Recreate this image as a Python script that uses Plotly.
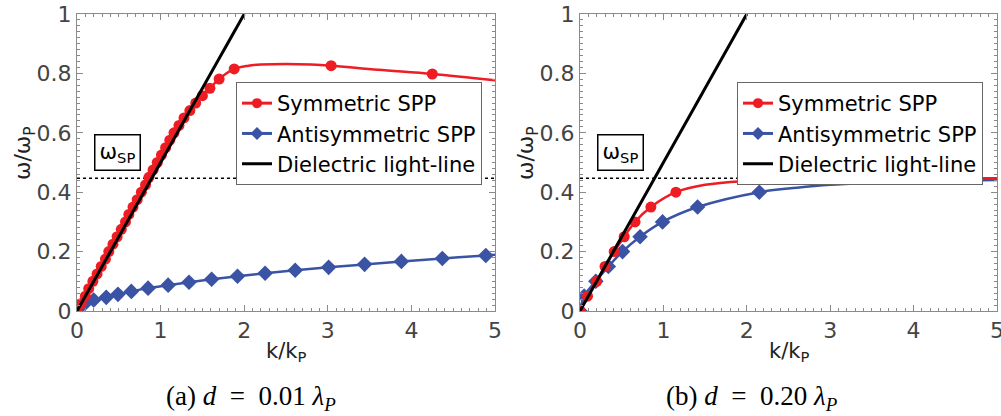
import plotly.graph_objects as go

# ---------------- data ----------------
# (a) d = 0.01 lambda_P
a_sym_k = [0, 0.05, 0.10, 0.14, 0.19, 0.24, 0.29, 0.34, 0.38, 0.43, 0.48, 0.53, 0.58, 0.62,
           0.67, 0.72, 0.77, 0.82, 0.86, 0.91, 0.96, 1.01, 1.06, 1.11, 1.16, 1.22, 1.28, 1.35,
           1.42, 1.50, 1.59, 1.70, 1.88, 3.04, 4.25]
a_sym_w = [0, 0.025, 0.05, 0.075, 0.10, 0.125, 0.15, 0.175, 0.20, 0.225, 0.25, 0.275, 0.30,
           0.325, 0.35, 0.375, 0.40, 0.425, 0.45, 0.475, 0.50, 0.525, 0.55, 0.575, 0.60, 0.625,
           0.65, 0.675, 0.70, 0.725, 0.75, 0.781, 0.815, 0.826, 0.798]
a_sym_curve_k = [0, 0.48, 0.96, 1.42, 1.59, 1.70, 1.88, 2.05, 2.2, 2.5, 2.8, 3.04, 3.6, 4.25, 5.0]
a_sym_curve_w = [0, 0.25, 0.50, 0.70, 0.75, 0.781, 0.815, 0.826, 0.830, 0.832, 0.830, 0.826,
                 0.812, 0.798, 0.777]
a_anti_k = [0, 0.05, 0.10, 0.20, 0.35, 0.49, 0.65, 0.85, 1.09, 1.34, 1.61, 1.92, 2.25, 2.61,
            3.01, 3.44, 3.88, 4.37, 4.89]
a_anti_w = [0, 0.018, 0.027, 0.037, 0.046, 0.056, 0.066, 0.077, 0.087, 0.097, 0.107, 0.117,
            0.127, 0.137, 0.147, 0.157, 0.167, 0.177, 0.187]
a_anti_curve_k = a_anti_k + [5.0]
a_anti_curve_w = a_anti_w + [0.189]

# (b) d = 0.20 lambda_P
b_sym_k = [0, 0.09, 0.20, 0.30, 0.41, 0.53, 0.66, 0.85, 1.15]
b_sym_w = [0, 0.05, 0.10, 0.15, 0.20, 0.25, 0.30, 0.35, 0.40]
b_sym_curve_k = b_sym_k + [1.5, 2.0, 2.5, 3.0, 4.0, 5.0]
b_sym_curve_w = b_sym_w + [0.425, 0.438, 0.443, 0.445, 0.446, 0.447]
b_anti_k = [0, 0.05, 0.19, 0.34, 0.51, 0.72, 0.99, 1.41, 2.15]
b_anti_w = [0, 0.05, 0.10, 0.15, 0.20, 0.25, 0.30, 0.35, 0.40]
b_anti_curve_k = b_anti_k + [2.6, 3.0, 3.5, 4.0, 5.0]
b_anti_curve_w = b_anti_w + [0.415, 0.425, 0.432, 0.437, 0.441]

light_k = [0, 2.0]
light_w = [0, 1.0]
w_sp = 0.447

x_ticks = [0, 1, 2, 3, 4, 5]
y_ticks = [0, 0.2, 0.4, 0.6, 0.8, 1]
x_ticklabels = ["0", "1", "2", "3", "4", "5"]
y_ticklabels = ["0", "0.2", "0.4", "0.6", "0.8", "1"]

captions = ["(a) <i>d</i>\u00a0\u00a0=\u00a0\u00a00.01 <i>λ<sub>P</sub></i>",
            "(b) <i>d</i>\u00a0\u00a0=\u00a0\u00a00.20 <i>λ<sub>P</sub></i>"]
legend_names = ["Symmetric SPP", "Antisymmetric SPP", "Dielectric light-line"]

# ---------------- styles ----------------
RED = "#ee1d23"
BLUE = "#3a53a4"
FONT = "DejaVu Sans"
W, H = 1001, 416

fig = go.Figure()

panels = [
    dict(xa="x", ya="y", leg="legend",
         sym=(a_sym_k, a_sym_w, a_sym_curve_k, a_sym_curve_w, 11),
         anti=(a_anti_k, a_anti_w, a_anti_curve_k, a_anti_curve_w)),
    dict(xa="x2", ya="y2", leg="legend2",
         sym=(b_sym_k, b_sym_w, b_sym_curve_k, b_sym_curve_w, 11),
         anti=(b_anti_k, b_anti_w, b_anti_curve_k, b_anti_curve_w)),
]

for p in panels:
    xa, ya, leg = p["xa"], p["ya"], p["leg"]
    sk, sw, sck, scw, ssize = p["sym"]
    ak, aw, ack, acw = p["anti"]
    fig.add_trace(go.Scatter(x=[0, 5], y=[w_sp, w_sp], mode="lines", xaxis=xa, yaxis=ya,
                             line=dict(color="black", width=1.5, dash="dot"),
                             showlegend=False, hoverinfo="skip"))
    fig.add_trace(go.Scatter(x=ack, y=acw, mode="lines", xaxis=xa, yaxis=ya,
                             line=dict(color=BLUE, width=2.5, shape="spline"), showlegend=False))
    fig.add_trace(go.Scatter(x=ak, y=aw, mode="markers", xaxis=xa, yaxis=ya,
                             marker=dict(color=BLUE, size=12, symbol="diamond"), showlegend=False))
    fig.add_trace(go.Scatter(x=sck, y=scw, mode="lines", xaxis=xa, yaxis=ya,
                             line=dict(color=RED, width=2.5, shape="spline"), showlegend=False))
    fig.add_trace(go.Scatter(x=sk, y=sw, mode="markers", xaxis=xa, yaxis=ya,
                             marker=dict(color=RED, size=ssize, symbol="circle"), showlegend=False))
    fig.add_trace(go.Scatter(x=light_k, y=light_w, mode="lines", xaxis=xa, yaxis=ya,
                             line=dict(color="black", width=3), showlegend=False))
    fig.add_trace(go.Scatter(x=[None], y=[None], mode="lines+markers", name=legend_names[0],
                             xaxis=xa, yaxis=ya, legend=leg,
                             line=dict(color=RED, width=3), marker=dict(color=RED, size=10)))
    fig.add_trace(go.Scatter(x=[None], y=[None], mode="lines+markers", name=legend_names[1],
                             xaxis=xa, yaxis=ya, legend=leg,
                             line=dict(color=BLUE, width=3),
                             marker=dict(color=BLUE, size=10, symbol="diamond")))
    fig.add_trace(go.Scatter(x=[None], y=[None], mode="lines", name=legend_names[2],
                             xaxis=xa, yaxis=ya, legend=leg,
                             line=dict(color="black", width=3)))

axis_common = dict(showgrid=False, zeroline=False, showline=True, linecolor="#8a8a8a",
                   linewidth=1, mirror="allticks", ticks="inside", ticklen=6, tickwidth=1,
                   tickcolor="#8a8a8a", automargin=False, ticklabeloverflow="allow",
                   tickfont=dict(family=FONT, size=22, color="#444444"))

xdoms = [[77 / W, 495 / W], [580 / W, 997 / W]]
ydom = [1 - 311 / H, 1 - 14 / H]

leg_common = dict(yanchor="top", xanchor="left", bgcolor="white", bordercolor="#666666",
                  borderwidth=1, font=dict(family=FONT, size=21, color="black"),
                  itemwidth=30, tracegroupgap=0)

fig.update_layout(
    width=W, height=H, margin=dict(l=0, r=0, t=0, b=0, autoexpand=False),
    paper_bgcolor="white", plot_bgcolor="white",
    xaxis=dict(domain=xdoms[0], range=[0, 5], anchor="y", tickvals=x_ticks, ticktext=x_ticklabels,
               minor=dict(dtick=0.1, ticklen=3, ticks="inside", tickcolor="#8a8a8a"), **axis_common),
    yaxis=dict(domain=ydom, range=[0, 1], anchor="x", tickvals=y_ticks, ticktext=y_ticklabels,
               minor=dict(dtick=0.02, ticklen=3, ticks="inside", tickcolor="#8a8a8a"), **axis_common),
    xaxis2=dict(domain=xdoms[1], range=[0, 5], anchor="y2", tickvals=x_ticks, ticktext=x_ticklabels,
                minor=dict(dtick=0.1, ticklen=3, ticks="inside", tickcolor="#8a8a8a"), **axis_common),
    yaxis2=dict(domain=ydom, range=[0, 1], anchor="x2", tickvals=y_ticks, ticktext=y_ticklabels,
                minor=dict(dtick=0.02, ticklen=3, ticks="inside", tickcolor="#8a8a8a"), **axis_common),
    legend=dict(x=236 / W, y=1 - 82 / H, **leg_common),
    legend2=dict(x=737 / W, y=1 - 82 / H, **leg_common),
)

annotations = []
for i, xd in enumerate(xdoms):
    cx = (xd[0] + xd[1]) / 2
    annotations.append(dict(text="k/k<sub>P</sub>", x=cx, y=1 - 352 / H, xref="paper", yref="paper",
                            xanchor="center", yanchor="middle", showarrow=False,
                            font=dict(family=FONT, size=21, color="#222222")))
    annotations.append(dict(text="ω/ω<sub>P</sub>", x=xd[0] - 53 / W, y=1 - 153 / H,
                            xref="paper", yref="paper", xanchor="center", yanchor="middle",
                            textangle=-90, showarrow=False,
                            font=dict(family=FONT, size=22, color="#222222")))
    annotations.append(dict(text="ω<sub>SP</sub>", x=xd[0] + 40 / W, y=1 - 152 / H,
                            xref="paper", yref="paper", xanchor="center", yanchor="middle",
                            showarrow=False,
                            font=dict(family=FONT, size=21, color="black"),
                            bordercolor="black", borderwidth=1.5, borderpad=4, bgcolor="white"))
    annotations.append(dict(text=captions[i], x=(251 if i == 0 else 752) / W, y=1 - 398 / H,
                            xref="paper", yref="paper", xanchor="center", yanchor="middle",
                            showarrow=False,
                            font=dict(family="Liberation Serif", size=27, color="black")))
fig.update_layout(annotations=annotations)

fig.write_html("out.html")
